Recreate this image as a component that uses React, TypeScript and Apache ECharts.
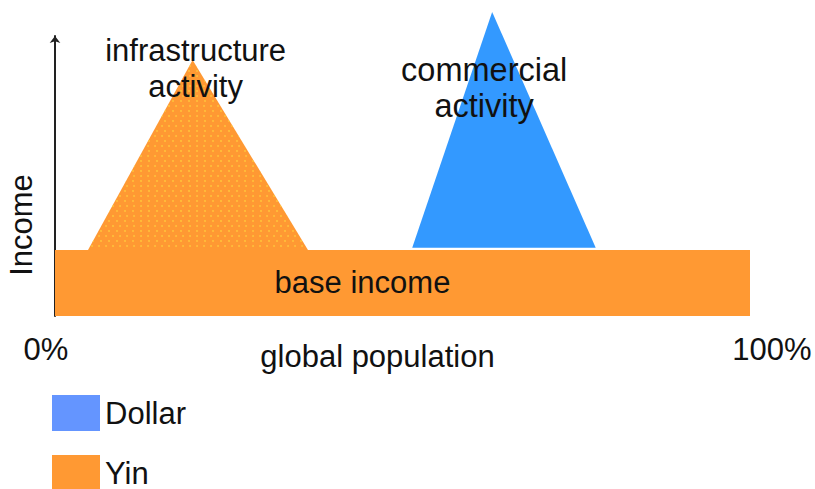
import React, { useEffect, useRef } from "react";
import * as echarts from "echarts";

// ---- data ----
const seriesNames = ["Dollar", "Yin"];
const populationTicks = ["0%", "100%"];
const axisTitles = ["global population", "Income"];
// rectangle: [x0, y0, x1, y1] (population %, income units)
const baseIncomeRect = [0, 0, 100, 23.6];
// triangles: [xLeft, yBase, xApex, yApex, xRight, yBase]
const infrastructureTriangle = [4.75, 23.6, 19.8, 91.4, 36.4, 23.6];
const commercialTriangle = [51.4, 24.4, 62.9, 108.6, 77.8, 24.4];
const shapeLabels = ["base income", "infrastructure\nactivity", "commercial\nactivity"];

const ORANGE = "#FF9933";
const BLUE = "#3399FF";
const LEGEND_BLUE = "#6495FF";
const TEXT = "#111111";
const FONT = "'Liberation Sans', Arial, sans-serif";
const FS = 31;

function rectItem(label: string, dx: number, dy: number) {
  return (params: any, api: any) => {
    const p0 = api.coord([api.value(0), api.value(1)]);
    const p1 = api.coord([api.value(2), api.value(3)]);
    const pts = [
      [p0[0], p0[1]],
      [p1[0], p0[1]],
      [p1[0], p1[1]],
      [p0[0], p1[1]],
    ];
    return {
      type: "group",
      children: [
        { type: "polygon", shape: { points: pts }, style: { fill: api.visual("color") } },
        {
          type: "text",
          x: (p0[0] + p1[0]) / 2 + dx,
          y: (p0[1] + p1[1]) / 2 + dy,
          style: { text: label, fontSize: FS, fontFamily: FONT, fill: TEXT, align: "center", verticalAlign: "middle" },
          z2: 10,
        },
      ],
    };
  };
}

function triItem(label: string, dx: number, dy: number, fs: number, decal: any) {
  return (params: any, api: any) => {
    const pts = [0, 1, 2].map((i) => api.coord([api.value(2 * i), api.value(2 * i + 1)]));
    const style: any = { fill: api.visual("color") };
    if (decal) style.decal = decal;
    return {
      type: "group",
      children: [
        { type: "polygon", shape: { points: pts }, style },
        {
          type: "text",
          x: pts[1][0] + dx,
          y: pts[1][1] + dy,
          style: {
            text: label,
            fontSize: fs,
            fontFamily: FONT,
            fill: TEXT,
            align: "center",
            verticalAlign: "middle",
            lineHeight: 36,
          },
          z2: 10,
        },
      ],
    };
  };
}

export default function App() {
  const ref = useRef<HTMLDivElement>(null);
  useEffect(() => {
    document.body.style.margin = "0";
    if (!ref.current) return;
    const chart = echarts.init(ref.current, null, { renderer: "svg" });
    const dots = {
      symbol: "circle",
      symbolSize: 0.8,
      color: "rgba(255,210,60,0.85)",
      dashArrayX: [
        [2, 5],
        [0, 3.5, 2, 1.5],
      ],
      dashArrayY: [2, 2.5],
    };
    chart.setOption({
      animation: false,
      grid: { left: 55, right: 65, top: 36, bottom: 173, outerBoundsMode: "none", containLabel: false },
      legend: {
        orient: "vertical",
        left: 52,
        top: 395,
        height: 200,
        icon: "rect",
        itemWidth: 48,
        itemHeight: 36,
        itemGap: 24,
        padding: 0,
        textStyle: { fontSize: FS, fontFamily: FONT, color: TEXT, lineHeight: 26, padding: [3, 0, 0, 0] },
        data: [
          { name: seriesNames[0], itemStyle: { color: LEGEND_BLUE } },
          { name: seriesNames[1], itemStyle: { color: ORANGE } },
        ],
      },
      xAxis: {
        type: "value",
        min: 0,
        max: 100,
        interval: 100,
        axisLine: { show: false },
        axisTick: { show: false },
        splitLine: { show: false },
        axisLabel: {
          margin: 18,
          formatter: (v: number) => (v === 0 ? `{a|${populationTicks[0]}}` : `{b|${populationTicks[1]}}`),
          rich: {
            a: { fontSize: FS, fontFamily: FONT, color: TEXT, padding: [0, 18, 0, 0] },
            b: { fontSize: FS, fontFamily: FONT, color: TEXT, padding: [0, 0, 0, 44] },
          },
        },
        name: axisTitles[0],
        nameLocation: "middle",
        nameGap: 25,
        nameMoveOverlap: false,
        nameTextStyle: { fontSize: FS, fontFamily: FONT, color: TEXT, padding: [0, 50, 0, 0] },
      },
      yAxis: {
        type: "value",
        min: 0,
        max: 100,
        axisLine: {
          show: true,
          symbol: ["none", "arrow"],
          symbolSize: [8, 7],
          lineStyle: { color: "#222", width: 2 },
        },
        axisTick: { show: false },
        axisLabel: { show: false },
        splitLine: { show: false },
        name: axisTitles[1],
        nameLocation: "middle",
        nameRotate: 90,
        nameGap: 18,
        nameMoveOverlap: false,
        nameTextStyle: { fontSize: FS, fontFamily: FONT, color: TEXT, padding: [0, 98, 0, 0] },
      },
      series: [
        {
          name: seriesNames[1],
          type: "custom",
          clip: false,
          itemStyle: { color: ORANGE },
          encode: { x: [0, 2], y: [1, 3] },
          renderItem: rectItem(shapeLabels[0], -40, 0),
          data: [baseIncomeRect],
          z: 1,
        },
        {
          name: seriesNames[1],
          type: "custom",
          clip: false,
          itemStyle: { color: ORANGE },
          encode: { x: [0, 2, 4], y: [1, 3, 5] },
          renderItem: triItem(shapeLabels[1], 3, 8, FS, dots),
          data: [infrastructureTriangle],
          z: 2,
        },
        {
          name: seriesNames[0],
          type: "custom",
          clip: false,
          itemStyle: { color: BLUE },
          encode: { x: [0, 2, 4], y: [1, 3, 5] },
          renderItem: triItem(shapeLabels[2], -8, 76, 32.5, null),
          data: [commercialTriangle],
          z: 2,
        },
      ],
    });
    return () => chart.dispose();
  }, []);
  return <div ref={ref} style={{ width: 815, height: 489 }} />;
}
